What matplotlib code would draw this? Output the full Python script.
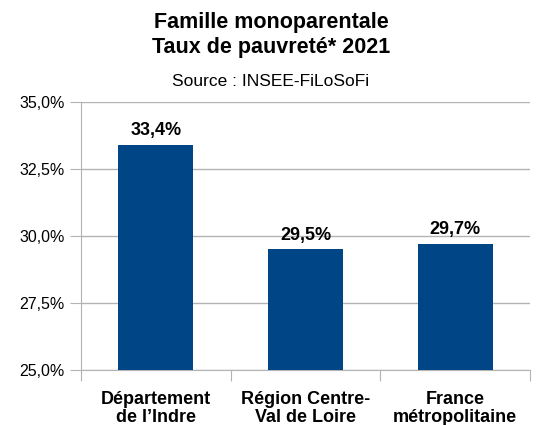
import matplotlib
matplotlib.use("Agg")
import matplotlib.pyplot as plt
from matplotlib.ticker import FuncFormatter

plt.rcParams['font.family'] = ['Liberation Sans', 'DejaVu Sans']

categories = ["Département\nde l\u2019Indre", "Région Centre-\nVal de Loire", "France\nmétropolitaine"]
values = [33.4, 29.5, 29.7]
yticks = [25.0, 27.5, 30.0, 32.5, 35.0]

fig = plt.figure(figsize=(5.42, 4.25), dpi=100)
ax = fig.add_axes([81 / 542, 1 - 370 / 425, 449 / 542, 268 / 425])

x = list(range(len(categories)))
ax.bar(x, [v - 25 for v in values], bottom=25, width=0.5, color="#004586", zorder=3)

for xi, v in zip(x, values):
    ax.text(xi, v + 0.22, f"{v:.1f}%".replace(".", ","), ha="center", va="bottom",
            fontsize=13, fontweight="bold", zorder=4)

ax.set_xlim(-0.5, 2.5)
ax.set_ylim(25, 35)
ax.set_yticks(yticks)
ax.yaxis.set_major_formatter(FuncFormatter(lambda v, p: f"{v:.1f}%".replace(".", ",")))
ax.grid(axis="y", color="#b3b3b3", linewidth=1, zorder=0)

ax.set_xticks([-0.5, 0.5, 1.5, 2.5])
ax.set_xticklabels([])
ax.set_xticks(x, minor=True)
ax.set_xticklabels(categories, minor=True, fontsize=13, fontweight="bold", linespacing=1.1)
ax.tick_params(axis="x", which="minor", length=0, pad=15)
ax.tick_params(axis="x", which="major", length=8, color="#b3b3b3")
ax.tick_params(axis="y", length=8, color="#b3b3b3", labelsize=11.5, pad=4)

for s in ["top", "right"]:
    ax.spines[s].set_visible(False)
for s in ["left", "bottom"]:
    ax.spines[s].set_color("#b3b3b3")

fig.text(0.5, 1 - 35 / 425, "Famille monoparentale\nTaux de pauvreté* 2021", ha="center", va="center",
         fontsize=15.5, fontweight="bold", linespacing=1.2)
fig.text(0.5, 1 - 82 / 425, "Source : INSEE-FiLoSoFi", ha="center", va="center", fontsize=12.5)

fig.savefig("out.png", dpi=100)
